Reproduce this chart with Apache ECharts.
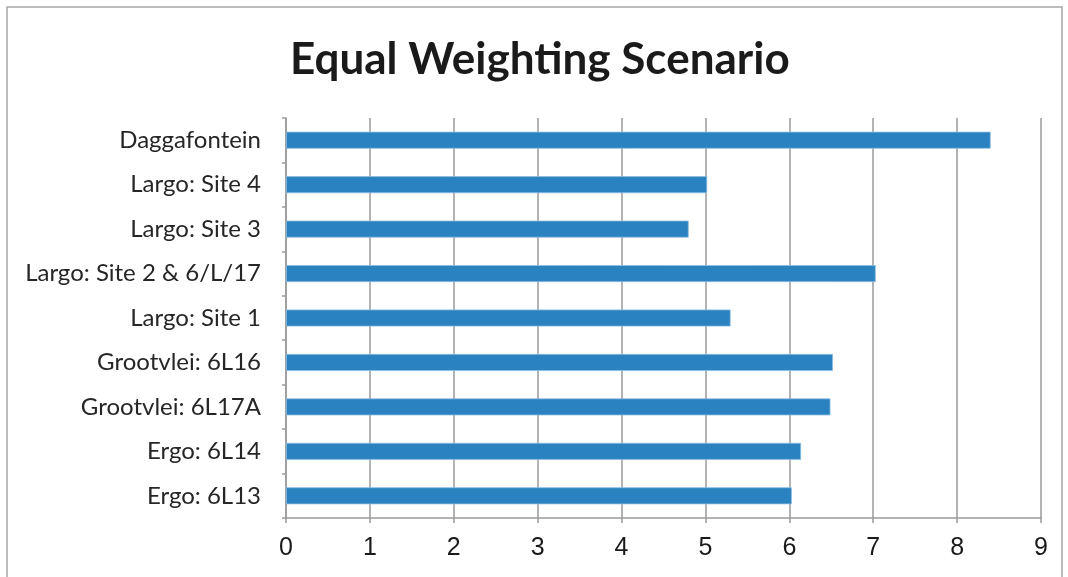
<!DOCTYPE html>
<html>
<head>
<meta charset="utf-8">
<title>Equal Weighting Scenario</title>
<script src="https://cdn.jsdelivr.net/npm/echarts@6/dist/echarts.min.js"></script>
<style>
  html, body { margin: 0; padding: 0; background: #fff; }
  #chart { width: 1068px; height: 577px; }
</style>
</head>
<body>
<div id="chart"></div>
<script>
// sites, top to bottom as drawn
const sites = [
  "Daggafontein",
  "Largo: Site 4",
  "Largo: Site 3",
  "Largo: Site 2 & 6/L/17",
  "Largo: Site 1",
  "Grootvlei: 6L16",
  "Grootvlei: 6L17A",
  "Ergo: 6L14",
  "Ergo: 6L13"
];
const scores = [8.40, 5.02, 4.80, 7.03, 5.30, 6.52, 6.49, 6.14, 6.03];
const xTicks = [0, 1, 2, 3, 4, 5, 6, 7, 8, 9];

const lineGray = "#9a9a9a";
const chart = echarts.init(document.getElementById("chart"));

chart.setOption({
  animation: false,
  title: {
    text: "Equal Weighting Scenario",
    left: 285,
    top: 33,
    textStyle: {
      fontFamily: "Lato",
      fontWeight: "bold",
      fontSize: 44,
      color: "#1a1a1a"
    }
  },
  graphic: [
    {
      // outer chart frame
      type: "rect",
      shape: { x: 7, y: 7, width: 1055, height: 600 },
      style: { fill: "none", stroke: "#a6a6a6", lineWidth: 1.5 },
      silent: true
    }
  ],
  grid: {
    left: 286,
    right: 27,
    top: 118,
    bottom: 59
  },
  xAxis: {
    type: "value",
    min: xTicks[0],
    max: xTicks[xTicks.length - 1],
    interval: 1,
    axisLine: { show: true, lineStyle: { color: lineGray, width: 1.5 } },
    axisTick: { show: true, length: 5, lineStyle: { color: lineGray, width: 1.5 } },
    splitLine: { show: true, lineStyle: { color: lineGray, width: 1.5 } },
    axisLabel: {
      margin: 18,
      fontFamily: "Liberation Sans",
      fontSize: 25,
      color: "#1a1a1a"
    }
  },
  yAxis: {
    type: "category",
    inverse: true,
    data: sites,
    axisLine: { show: true, lineStyle: { color: lineGray, width: 1.5 } },
    axisTick: { show: true, length: 4, lineStyle: { color: lineGray, width: 1.5 } },
    axisLabel: {
      margin: 25,
      fontFamily: "Lato",
      fontSize: 24,
      color: "#262626"
    }
  },
  series: [
    {
      name: "Score",
      type: "bar",
      data: scores,
      barWidth: 17,
      itemStyle: {
        color: "#2a83c0",
        borderColor: "#8dbde2",
        borderWidth: 0.8
      }
    }
  ]
});
</script>
</body>
</html>
